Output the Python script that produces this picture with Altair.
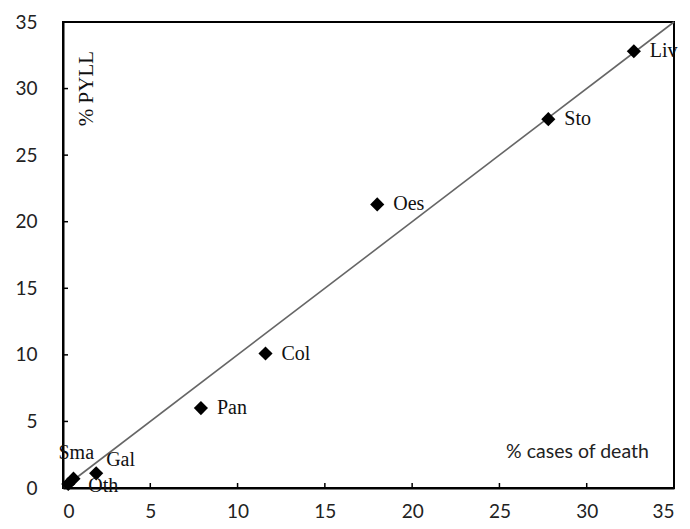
import altair as alt
import pandas as pd

labels = ["Liv", "Sto", "Oes", "Col", "Pan", "Gal", "Sma", "Oth"]
cases_of_death = [32.7, 27.8, 18.0, 11.6, 7.9, 1.9, 0.6, 0.3]
pyll = [32.8, 27.7, 21.3, 10.1, 6.0, 1.1, 0.7, 0.3]
ticks = [0, 5, 10, 15, 20, 25, 30, 35]

df = pd.DataFrame({"label": labels, "x": cases_of_death, "y": pyll})
line_df = pd.DataFrame({"x": [0, 35], "y": [0, 35]})
tick_df = pd.DataFrame({"t": ticks})

W, H = 611, 466
xs = alt.Scale(domain=[0, 35], nice=False, zero=False)
ys = alt.Scale(domain=[0, 35], nice=False, zero=False)

axis_common = dict(
    domainColor="black", domainWidth=2, tickSize=0, labelFont="Lato",
    labelFontSize=19, labelColor="#222", grid=False, values=ticks, title=None,
)

base_pts = alt.Chart(df)

diag = alt.Chart(line_df).mark_line(color="#666", strokeWidth=1.6).encode(
    x=alt.X("x:Q", scale=xs, axis=alt.Axis(labelPadding=14, **axis_common)),
    y=alt.Y("y:Q", scale=ys, axis=alt.Axis(labelPadding=26, **axis_common)),
)

xticks = alt.Chart(tick_df).mark_rule(color="black", strokeWidth=1.5).encode(
    x=alt.X("t:Q", scale=xs), y=alt.value(H), y2=alt.value(H - 5)
)
yticks = alt.Chart(tick_df).mark_rule(color="black", strokeWidth=1.5).encode(
    y=alt.Y("t:Q", scale=ys), x=alt.value(0), x2=alt.value(5)
)

points = base_pts.mark_point(shape="diamond", filled=True, color="black", size=200, opacity=1).encode(
    x=alt.X("x:Q", scale=xs), y=alt.Y("y:Q", scale=ys)
)

txt = dict(font="Liberation Serif", fontSize=20, color="#111", align="left", baseline="middle")
main_labels = base_pts.transform_filter(
    alt.FieldOneOfPredicate(field="label", oneOf=["Liv", "Sto", "Oes", "Col", "Pan"])
).mark_text(dx=16, **txt).encode(x=alt.X("x:Q", scale=xs), y=alt.Y("y:Q", scale=ys), text="label:N")
gal = base_pts.transform_filter(alt.datum.label == "Gal").mark_text(dx=10, dy=-13, **txt).encode(
    x=alt.X("x:Q", scale=xs), y=alt.Y("y:Q", scale=ys), text="label:N")
sma = base_pts.transform_filter(alt.datum.label == "Sma").mark_text(dx=-15, dy=-26, **txt).encode(
    x=alt.X("x:Q", scale=xs), y=alt.Y("y:Q", scale=ys), text="label:N")
oth = base_pts.transform_filter(alt.datum.label == "Oth").mark_text(dx=20, dy=2, **txt).encode(
    x=alt.X("x:Q", scale=xs), y=alt.Y("y:Q", scale=ys), text="label:N")

titles_df = pd.DataFrame({"x": [29.47], "y": [2.7], "t": ["% cases of death"]})
ytitle_df = pd.DataFrame({"x": [1.4], "y": [30.0], "t": ["% PYLL"]})
xtitle = alt.Chart(titles_df).mark_text(font="Lato", fontSize=19.5, color="#222").encode(
    x=alt.X("x:Q", scale=xs), y=alt.Y("y:Q", scale=ys), text="t:N")
ytitle = alt.Chart(ytitle_df).mark_text(font="Liberation Serif", fontSize=21, color="#111", angle=270).encode(
    x=alt.X("x:Q", scale=xs), y=alt.Y("y:Q", scale=ys), text="t:N")

chart = alt.layer(diag, xticks, yticks, points, main_labels, gal, sma, oth, xtitle, ytitle).properties(
    width=W, height=H,
    background="white",
    autosize=alt.AutoSizeParams(type="none"),
    padding={"left": 55, "top": 14, "right": 6, "bottom": 33},
).configure_view(stroke="black", strokeWidth=2)

chart.save("out.html", embed_options={"renderer": "svg", "actions": False})
